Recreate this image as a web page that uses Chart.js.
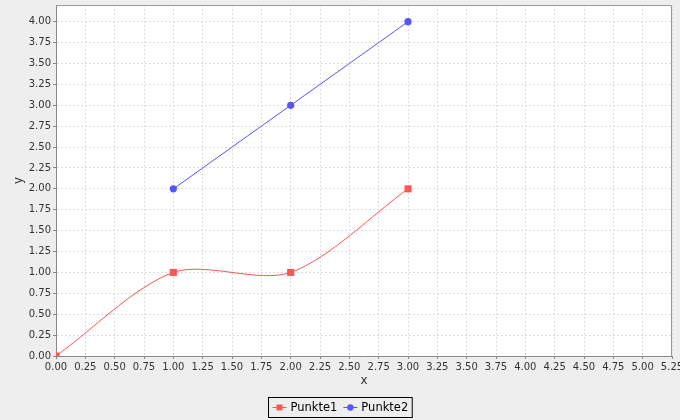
<!DOCTYPE html>
<html><head><meta charset="utf-8">
<script src="https://cdn.jsdelivr.net/npm/chart.js@4/dist/chart.umd.min.js"></script>
<style>html,body{margin:0;padding:0;background:#EEEEEE;}#wrap{width:680px;height:420px;}</style>
</head><body><div id="wrap"><canvas id="c" width="680" height="420"></canvas></div>
<script>
const seriesNames = ['Punkte1', 'Punkte2'];
const punkte1X = [0, 1, 2, 3];
const punkte1Y = [0, 1, 1, 2];
const punkte2X = [1, 2, 3];
const punkte2Y = [2, 3, 4];
const xTitle = 'x';
const yTitle = 'y';
const xRange = [0, 5.25];
const yRange = [0, 4.2];
const tickStep = 0.25;

const RED = '#FF5555', BLUE = '#5555FF';
const pts = (xs, ys) => xs.map((x, i) => ({x, y: ys[i]}));
const FONT = '"DejaVu Sans", sans-serif';

const bgPlugin = {
  id: 'bg',
  beforeDraw(chart) {
    const {ctx, chartArea: a} = chart;
    ctx.save();
    ctx.fillStyle = '#EEEEEE';
    ctx.fillRect(0, 0, chart.width, chart.height);
    ctx.fillStyle = '#FFFFFF';
    ctx.fillRect(a.left, a.top, a.right - a.left, a.bottom - a.top);
    ctx.restore();
  },
  afterDraw(chart) {
    const {ctx, chartArea: a} = chart;
    ctx.save();
    ctx.strokeStyle = '#999999';
    ctx.lineWidth = 1;
    ctx.beginPath();
    ctx.moveTo(a.left, a.top + 0.5);
    ctx.lineTo(a.right - 0.5, a.top + 0.5);
    ctx.lineTo(a.right - 0.5, a.bottom);
    ctx.stroke();
    // legend
    ctx.font = '11.5px ' + FONT;
    ctx.textBaseline = 'middle';
    const ds = chart.data.datasets;
    const sym = 14, gap = 4, itemGap = 6, padX = 4;
    const widths = ds.map(d => sym + gap + ctx.measureText(d.label).width);
    const total = widths.reduce((s, w) => s + w, 0) + itemGap * (ds.length - 1) + padX * 2;
    const bx = Math.round(chart.width / 2 - total / 2) + 0.5;
    const by = 397.5, bh = 20;
    ctx.strokeStyle = '#000000';
    ctx.strokeRect(bx, by, total, bh);
    let x = bx + padX;
    const cy = by + bh / 2;
    ds.forEach((d, i) => {
      ctx.strokeStyle = d.borderColor;
      ctx.fillStyle = d.borderColor;
      ctx.beginPath();
      ctx.moveTo(x, cy); ctx.lineTo(x + sym, cy); ctx.stroke();
      if (d.pointStyle === 'rect') {
        ctx.fillRect(x + sym / 2 - 3, cy - 3, 6, 6);
      } else {
        ctx.beginPath(); ctx.arc(x + sym / 2, cy, 3.2, 0, Math.PI * 2); ctx.fill();
      }
      ctx.fillStyle = '#000000';
      ctx.fillText(d.label, x + sym + gap, cy + 0.5);
      x += widths[i] + itemGap;
    });
    ctx.restore();
  }
};

const axisCommon = (title, range) => ({
  type: 'linear',
  min: range[0], max: range[1],
  ticks: {
    stepSize: tickStep, autoSkip: false, maxRotation: 0,
    color: '#333333', font: {family: FONT, size: 10}, padding: 2,
    callback: v => Number(v).toFixed(2)
  },
  grid: {color: '#DDDDDD', lineWidth: 1, tickLength: 3, tickColor: '#888888', tickBorderDash: []},
  border: {display: true, color: '#888888', width: 1, dash: [2, 2]},
  title: {display: true, text: title, color: '#333333', font: {family: FONT, size: 12}}
});

const xAxis = axisCommon(xTitle, xRange);
xAxis.afterFit = s => { s.height = 36; s.paddingLeft = 0; s.paddingRight = 0; };
const yAxis = axisCommon(yTitle, yRange);
yAxis.afterFit = s => { s.width = 56; s.paddingTop = 0; s.paddingBottom = 0; };
yAxis.title.padding = {top: 12, bottom: 0};
yAxis.afterBuildTicks = s => { s.ticks = s.ticks.filter(t => t.value <= 4.0001); };

new Chart(document.getElementById('c'), {
  type: 'line',
  data: {
    datasets: [
      {label: seriesNames[0], data: pts(punkte1X, punkte1Y), borderColor: RED, backgroundColor: RED,
       pointStyle: 'rect', pointRadius: 5, pointBorderWidth: 0, borderWidth: 1, tension: 0.3, clip: 0},
      {label: seriesNames[1], data: pts(punkte2X, punkte2Y), borderColor: BLUE, backgroundColor: BLUE,
       pointStyle: 'circle', pointRadius: 3.6, pointBorderWidth: 0, borderWidth: 1, tension: 0.3, clip: 0}
    ]
  },
  options: {
    responsive: false, animation: false, devicePixelRatio: 1,
    layout: {padding: {top: 4, right: 8, left: 0, bottom: 28}},
    plugins: {legend: {display: false}, tooltip: {enabled: false}},
    scales: {x: xAxis, y: yAxis}
  },
  plugins: [bgPlugin]
});
</script></body></html>
